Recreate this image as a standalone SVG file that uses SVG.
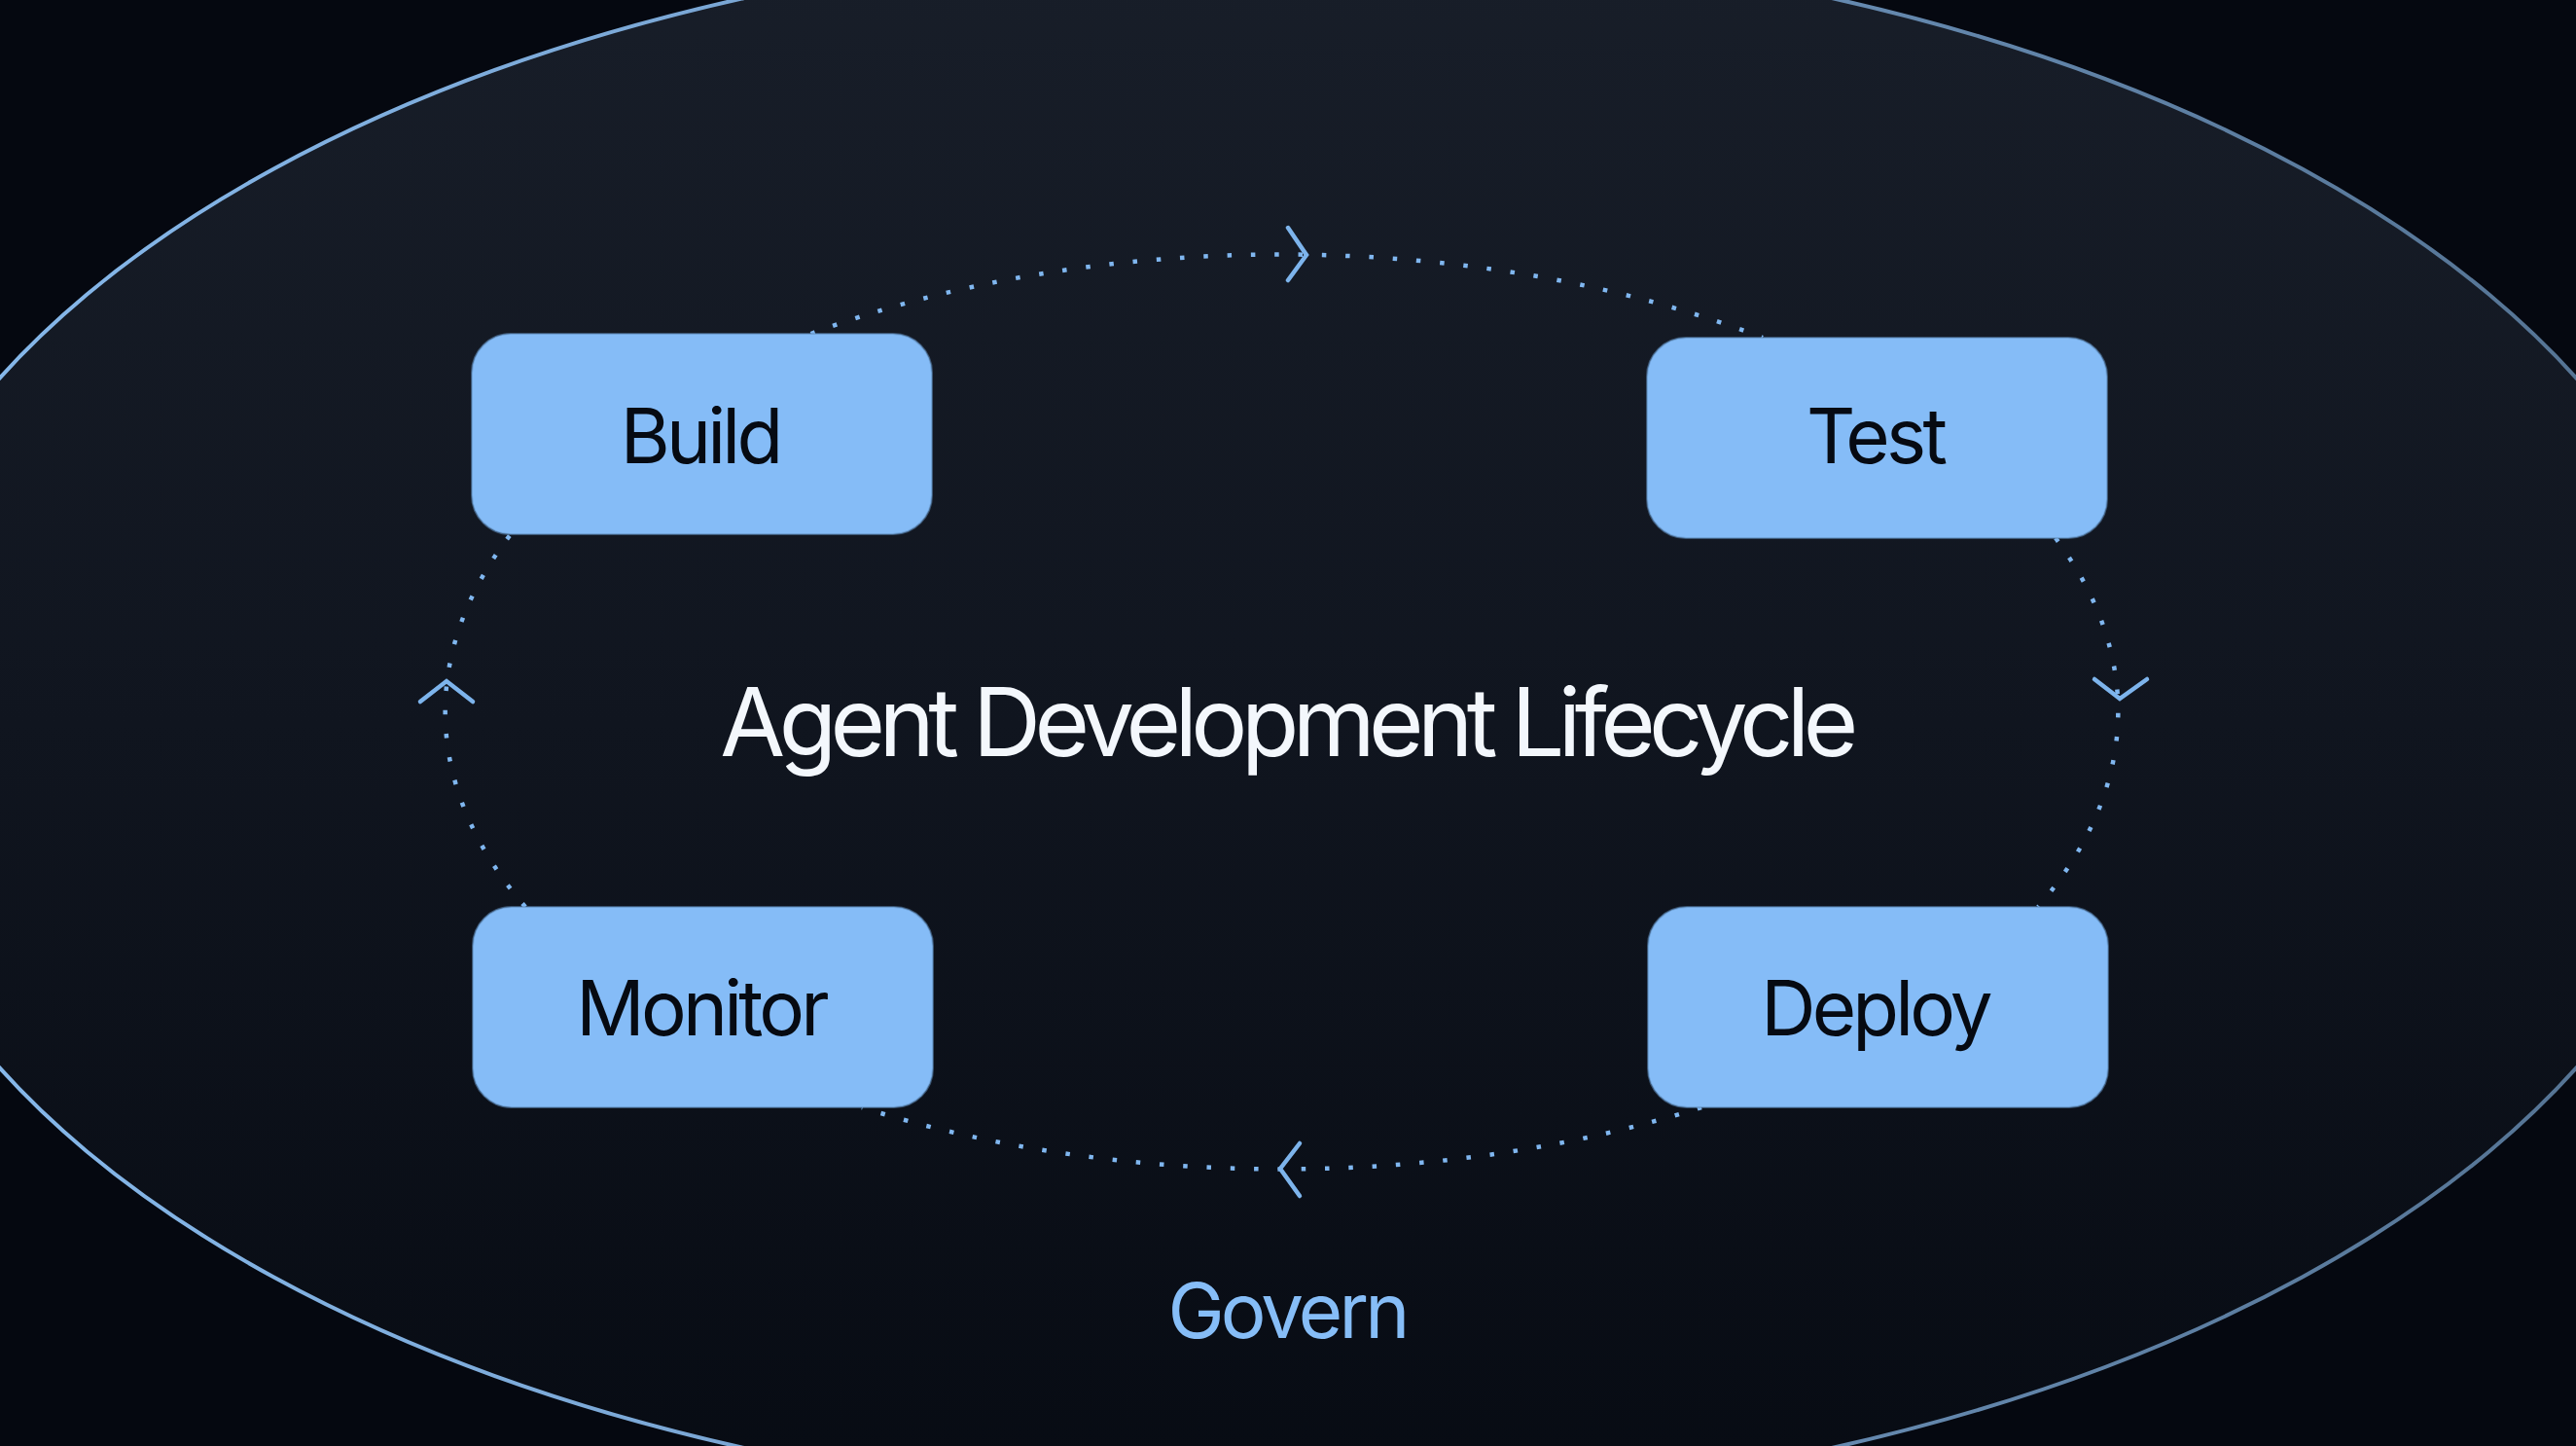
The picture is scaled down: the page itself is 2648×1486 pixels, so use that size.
<svg xmlns="http://www.w3.org/2000/svg" width="2648" height="1486" viewBox="0 0 2648 1486">
  <defs>
    <linearGradient id="ringStroke" x1="0" y1="0" x2="1" y2="0">
      <stop offset="0" stop-color="#88bbee"/>
      <stop offset="0.5" stop-color="#7199c4"/>
      <stop offset="1" stop-color="#52708f"/>
    </linearGradient>
    <linearGradient id="ringFill" x1="0" y1="0" x2="0" y2="1">
      <stop offset="0" stop-color="#181e29"/>
      <stop offset="0.5" stop-color="#10151f"/>
      <stop offset="1" stop-color="#070b13"/>
    </linearGradient>
    <style>
      .node rect { fill: #85bcf7; stroke: #5f8dbb; stroke-opacity: 0.55; stroke-width: 2; }
      .node text { font-family: Inter, "Liberation Sans", sans-serif; font-size: 78px; letter-spacing: -3.8px; fill: #060a12; text-anchor: middle; }
      .flow { fill: none; stroke: #80b7f0; stroke-width: 4.5; stroke-dasharray: 4.5 19.8; }
      .chev { fill: none; stroke: #7db4ec; stroke-width: 4.5; stroke-linecap: round; stroke-linejoin: miter; }
      .title { font-family: Inter, "Liberation Sans", sans-serif; font-size: 97px; letter-spacing: -6.6px; fill: #f3f7fc; text-anchor: middle; }
      .govern { font-family: Inter, "Liberation Sans", sans-serif; font-size: 78px; letter-spacing: -3.8px; fill: #86bdf7; text-anchor: middle; }
    </style>
  </defs>

  <rect x="0" y="0" width="2648" height="1486" fill="#050810"/>

  <g id="govern-ring">
    <ellipse cx="1324" cy="743" rx="1475" ry="805" fill="url(#ringFill)" stroke="url(#ringStroke)" stroke-width="4"/>
    <text class="govern" x="1323" y="1375">Govern</text>
  </g>

  <g id="connectors">
    <path class="flow" d="M 833.5 343 A 860 470 0 0 1 1812 347"/>
    <path class="flow" d="M 2113 553 A 860 470 0 0 1 2095 932"/>
    <path class="flow" d="M 1749 1138 A 860 470 0 0 1 886 1138"/>
    <path class="flow" d="M 540 932 A 860 470 0 0 1 525 549"/>
    <polyline class="chev" points="1324,234 1343,262 1324,288"/>
    <polyline class="chev" points="2153,698 2179,718 2207,698"/>
    <polyline class="chev" points="1336,1175 1316,1201 1336,1229"/>
    <polyline class="chev" points="432,721 459,700 486,721"/>
  </g>

  <text id="title" class="title" x="1322" y="777">Agent Development Lifecycle</text>

  <g id="node-build" class="node">
    <rect x="485" y="343" width="473" height="206" rx="40" ry="40"/>
    <text x="719.5" y="476">Build</text>
  </g>
  <g id="node-test" class="node">
    <rect x="1693" y="347" width="473" height="206" rx="40" ry="40"/>
    <text x="1927.5" y="476">Test</text>
  </g>
  <g id="node-deploy" class="node">
    <rect x="1694" y="932" width="473" height="206" rx="40" ry="40"/>
    <text x="1927.5" y="1064">Deploy</text>
  </g>
  <g id="node-monitor" class="node">
    <rect x="486" y="932" width="473" height="206" rx="40" ry="40"/>
    <text x="720.5" y="1064">Monitor</text>
  </g>
</svg>
